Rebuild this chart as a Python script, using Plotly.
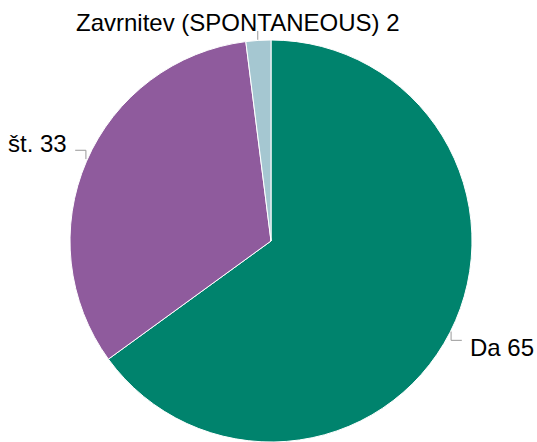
import math
import plotly.graph_objects as go

labels = ["Da", "št.", "Zavrnitev (SPONTANEOUS)"]
values = [65, 33, 2]
colors = ["#00836d", "#8f5b9d", "#a5c7d1"]

W, H = 537, 442
cx, cy, r = 271, 241, 201  # pie centre and radius in px

fig = go.Figure(go.Pie(
    labels=labels, values=values, sort=False, direction="clockwise", rotation=0,
    marker=dict(colors=colors, line=dict(color="white", width=1)),
    textinfo="none", hoverinfo="label+value", showlegend=False,
    domain=dict(x=[(cx - r) / W, (cx + r) / W], y=[0, 2 * r / H]),
))

def px2paper(x, y):
    return x / W, 1 - y / H

total = sum(values)
cum = 0
for lab, v in zip(labels, values):
    ang = 2 * math.pi * (cum + v / 2) / total
    cum += v
    s, c = math.sin(ang), math.cos(ang)
    ex, ey = cx + r * s, cy - r * c
    ky = ey - (9 if c > 0 else -8)
    side = 0 if abs(s) < 0.2 else (1 if s > 0 else -1)
    kx = ex + side * 13
    pts = [(ex, ey), (ex, ky), (kx, ky)]
    path = "M " + " L ".join("%.2f,%.2f" % px2paper(*p) for p in pts)
    fig.add_shape(type="path", path=path, xref="paper", yref="paper",
                  line=dict(color="#999999", width=1))
    tx, ty = px2paper(kx, ky)
    fig.add_annotation(
        x=tx, y=ty, xref="paper", yref="paper", showarrow=False,
        text="%s %d" % (lab, v),
        xanchor={1: "left", -1: "right", 0: "center"}[side],
        yanchor="bottom" if c > 0 else "top",
        xshift=side * 5 + (-20 if side == 0 else 0),
        yshift=(-7 if c > 0 else 8),
        font=dict(family="Liberation Sans, Arial, sans-serif", size=24, color="#000000"),
    )

fig.update_layout(
    width=W, height=H, margin=dict(l=0, r=0, t=0, b=0),
    paper_bgcolor="white", plot_bgcolor="white",
)
fig.write_html("out.html", config={"displayModeBar": False},
               post_script="document.body.style.margin='0';")
